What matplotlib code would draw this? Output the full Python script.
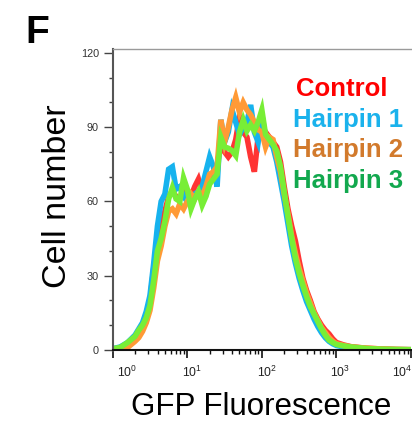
"""GFP fluorescence histogram, control vs hairpins (panel F)."""

import matplotlib

matplotlib.use("Agg")

import matplotlib.pyplot as plt
import matplotlib.transforms as mtransforms
import numpy as np
from matplotlib.ticker import FixedLocator, LogLocator, NullFormatter

plt.rcParams["font.family"] = ["Liberation Sans", "DejaVu Sans"]

# channel positions in log10(GFP) units
log_channel = [
    0.00, 0.10, 0.20, 0.30, 0.35, 0.40, 0.45, 0.50, 0.55, 0.60,
    0.65, 0.70, 0.75, 0.80, 0.85, 0.90, 0.95, 1.00, 1.05, 1.10,
    1.15, 1.20, 1.25, 1.30, 1.35, 1.40, 1.45, 1.50, 1.55, 1.60,
    1.65, 1.70, 1.75, 1.80, 1.85, 1.90, 1.95, 2.00, 2.05, 2.10,
    2.15, 2.20, 2.25, 2.30, 2.35, 2.40, 2.45, 2.50, 2.55, 2.60,
    2.65, 2.70, 2.75, 2.80, 2.85, 2.90, 2.95, 3.00, 3.10, 3.20,
    3.40, 3.60, 3.80, 4.00,
]

control = [
    0.3, 0.8, 2.5, 5, 7.5, 10, 14, 20, 33, 44,
    50, 56, 62, 64, 62, 61, 64, 63, 62, 66,
    69, 64, 63, 70, 71, 74, 84, 80, 78, 80,
    85, 94, 88, 86, 78, 72, 86, 90, 88, 86,
    84, 82, 76, 66, 57, 50, 44, 36, 29, 24,
    20, 15.5, 12.5, 10, 8, 6.5, 4.5, 3, 2, 1.3,
    0.7, 0.4, 0.2, 0.1,
]

hairpin1 = [
    0.5, 1.2, 3, 6, 8.5, 11, 15.5, 22, 35, 50,
    60, 63, 73, 74, 65, 66, 62, 60, 62, 63,
    64, 66, 72, 78, 74, 66, 93, 84, 88, 97,
    92, 87, 90, 92, 99, 88, 84, 95, 86, 84,
    82, 76, 68, 60, 51, 42, 35, 29, 24, 19.5,
    16, 12.5, 9.5, 7, 5, 3.5, 2.5, 1.8, 1.2, 0.8,
    0.4, 0.2, 0.1, 0.1,
]

hairpin2 = [
    0.2, 0.3, 1, 3.5, 5, 7.5, 11, 16, 25, 36,
    42, 50, 56, 57, 55, 59, 57, 60, 63, 61,
    64, 62, 66, 71, 72, 74, 93, 84, 90, 97,
    102, 96, 100, 97, 95, 92, 89, 88, 82, 86,
    85, 78, 72, 63, 55, 46, 39, 33, 28, 23,
    19, 15, 12, 9, 7, 5, 3.5, 2.5, 1.8, 1.2,
    0.7, 0.4, 0.2, 0.1,
]

hairpin3 = [
    0.5, 1.0, 3.0, 5.5, 8, 10, 13, 18, 28, 40,
    45, 52, 61, 65.5, 61, 60, 69.5, 65, 57, 61,
    64, 58.5, 62, 67, 69, 71, 86, 82, 81.5, 80.5,
    78.5, 88, 93, 88.5, 91, 88.5, 92, 97, 87, 85,
    83, 80.5, 74, 64, 54, 45, 37, 31, 26, 21.5,
    17.5, 14.5, 11.5, 8.5, 6, 4, 3, 2.2, 1.6, 1.2,
    0.6, 0.3, 0.2, 0.1,
]

decade_ticks = [1, 10, 100, 1000, 10000]
decade_labels = [r"$\mathregular{10^{%d}}$" % k for k in range(5)]

series_names = ["Control", "Hairpin 1", "Hairpin 2", "Hairpin 3"]
line_colors = ["#ff3434", "#16b2ee", "#ff9a36", "#78ee36"]
text_colors = ["#ff0000", "#1ab2ec", "#d27a2c", "#12a84e"]

fig = plt.figure(figsize=(4.12, 4.22), dpi=100)
ax = fig.add_axes([0.2735, 0.1678, 0.7241, 0.7156])

gfp = 10 ** np.array(log_channel)
for values, color in zip([control, hairpin1, hairpin2, hairpin3], line_colors):
    ax.plot(gfp, values, color=color, linewidth=4.0, solid_joinstyle="miter")

ax.set_xscale("log")
ax.set_xlim(1, 1e4)
ax.set_ylim(-0.5, 121.5)

ax.xaxis.set_major_locator(FixedLocator(decade_ticks))
ax.xaxis.set_minor_locator(LogLocator(base=10, subs=np.arange(2, 10)))
ax.xaxis.set_minor_formatter(NullFormatter())
ax.set_xticklabels([])
ax.set_yticks([0, 30, 60, 90, 120])
ax.set_yticks(np.arange(0, 121, 10), minor=True)

ax.tick_params(axis="y", which="major", direction="out", length=6.5,
               width=1.0, color="#444444", labelsize=7.8,
               labelcolor="#333333", pad=3.5)
ax.tick_params(axis="y", which="minor", direction="out", length=3,
               width=1.0, color="#444444")
ax.tick_params(axis="x", which="major", direction="out", length=5.8,
               width=1.2, color="#111111")
ax.tick_params(axis="x", which="minor", direction="out", length=3,
               width=1.0, color="#111111")

# decade labels drawn by hand: they sit a little right of their ticks,
# and the last one is pulled in from the edge
label_shift = [14, 5, 5, 4, -9]
for tick, text, dx in zip(decade_ticks, decade_labels, label_shift):
    offset = mtransforms.ScaledTranslation(dx / 100, -25.5 / 100,
                                           fig.dpi_scale_trans)
    ax.text(tick, 0, text, transform=ax.get_xaxis_transform() + offset,
            fontsize=8.8, color="#222222", ha="center", va="baseline",
            clip_on=False)

ax.spines["right"].set_visible(False)
ax.spines["top"].set_color("#9a9a9a")
ax.spines["top"].set_linewidth(1.0)
ax.spines["left"].set_color("#555555")
ax.spines["left"].set_linewidth(1.5)
ax.spines["bottom"].set_position(("data", 0))
ax.spines["bottom"].set_color("#111111")
ax.spines["bottom"].set_linewidth(1.5)


def px(x_pos, y_pos):
    """Pixel position (from the top-left) to figure fraction."""
    return x_pos / 412, 1 - y_pos / 422


legend_pos = [(296, 96), (293, 126.7), (293, 157.3), (293, 187.7)]
for name, color, (x_pos, y_pos) in zip(series_names, text_colors, legend_pos):
    fig.text(*px(x_pos, y_pos), name, color=color, fontsize=18.5,
             fontweight="bold", ha="left", va="baseline")

fig.text(*px(25, 43), "F", fontsize=28, fontweight="bold",
         ha="left", va="baseline")
fig.text(*px(58, 196.5), "Cell number", fontsize=24.5, rotation=90,
         ha="center", va="center")
fig.text(*px(261.5, 415), "GFP Fluorescence", fontsize=22.5,
         ha="center", va="baseline")

fig.savefig("out.png", dpi=100)
plt.close(fig)
